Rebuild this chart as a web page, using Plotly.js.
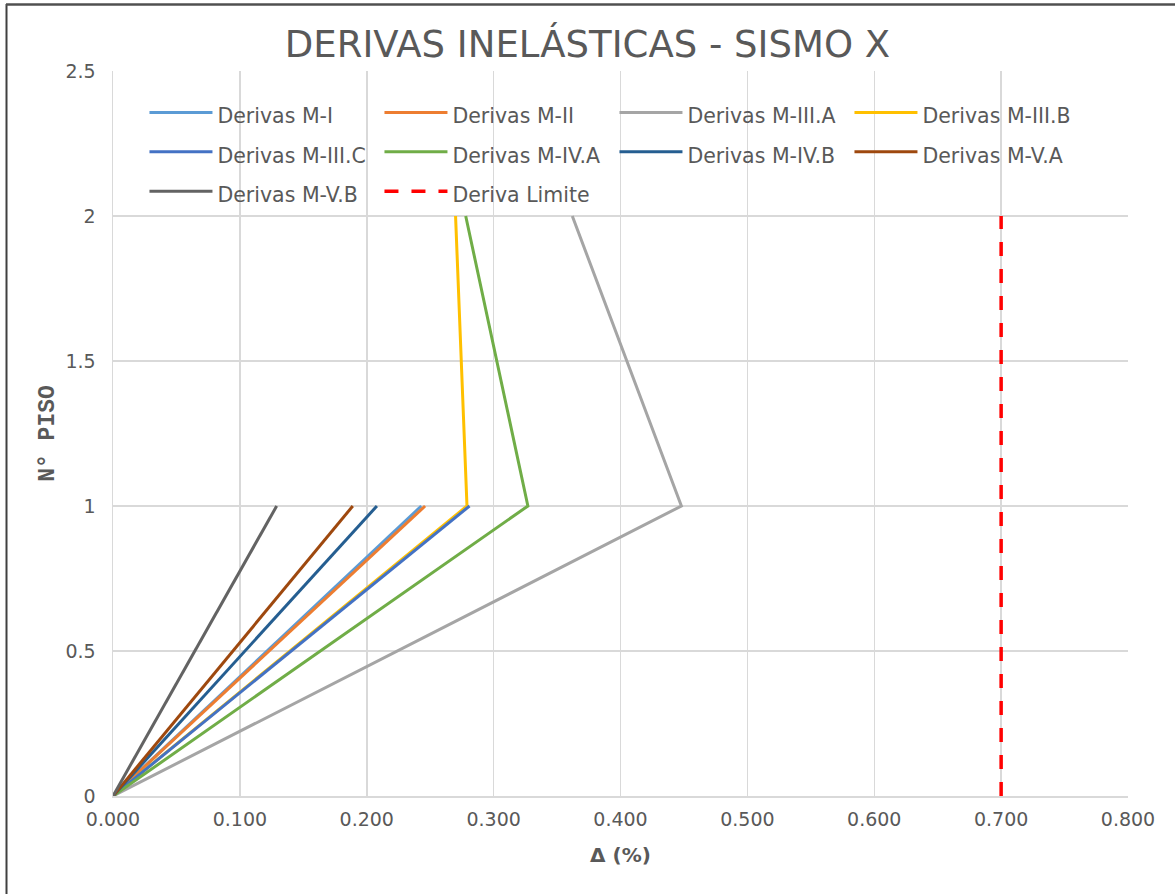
<!DOCTYPE html>
<html>
<head>
<meta charset="utf-8">
<script src="https://cdn.plot.ly/plotly-3.0.1.min.js"></script>
<style>html,body{margin:0;padding:0;background:#fff;}#chart{width:1175px;height:894px;}</style>
</head>
<body>
<div id="chart"></div>
<script>
// Data
const seriesNames = ["Derivas M-I","Derivas M-II","Derivas M-III.A","Derivas M-III.B","Derivas M-III.C","Derivas M-IV.A","Derivas M-IV.B","Derivas M-V.A","Derivas M-V.B"];
const seriesColors = ["#5B9BD5","#ED7D31","#A5A5A5","#FFC000","#4472C4","#70AD47","#255E91","#9E480E","#636363"];
const derivasMI    = [0, 0.243];
const derivasMII   = [0, 0.246];
const derivasMIIIA = [0, 0.448, 0.362];
const derivasMIIIB = [0, 0.279, 0.270];
const derivasMIIIC = [0, 0.281];
const derivasMIVA  = [0, 0.327, 0.278];
const derivasMIVB  = [0, 0.208];
const derivasMVA   = [0, 0.189];
const derivasMVB   = [0, 0.129];
const pisos1 = [0, 1];
const pisos2 = [0, 1, 2];
const limiteName = "Deriva Limite";
const derivaLimiteX = [0.7, 0.7];
const derivaLimiteY = [0, 2];
const xTicks = [0, 0.1, 0.2, 0.3, 0.4, 0.5, 0.6, 0.7, 0.8];
const yTicks = [0, 0.5, 1, 1.5, 2, 2.5];

const seriesX = [derivasMI, derivasMII, derivasMIIIA, derivasMIIIB, derivasMIIIC, derivasMIVA, derivasMIVB, derivasMVA, derivasMVB];
const legendLabel = s => '<span style="font-size:20.5px">' + s + '</span>';

const traces = seriesX.map((xs, i) => ({
  x: xs,
  y: xs.length === 3 ? pisos2 : pisos1,
  type: 'scatter',
  mode: 'lines',
  name: legendLabel(seriesNames[i]),
  line: {color: seriesColors[i], width: 3}
}));
traces.push({
  x: derivaLimiteX, y: derivaLimiteY, type: 'scatter', mode: 'lines',
  name: legendLabel(limiteName), line: {color: '#FF0000', width: 3.5, dash: '14px,13px'}
});

const tickFont = {family: 'DejaVu Sans, sans-serif', size: 19, color: '#595959'};
const layout = {
  width: 1175, height: 894,
  paper_bgcolor: '#fff', plot_bgcolor: '#fff',
  margin: {l: 113, r: 47, t: 71, b: 98},
  title: {text: 'DERIVAS INELÁSTICAS - SISMO X', font: {family: 'DejaVu Sans, sans-serif', size: 37, color: '#595959'}, x: 0.5, xanchor: 'center', y: 0.951, yanchor: 'middle'},
  xaxis: {
    range: [0, 0.8], tickvals: xTicks, tickformat: '.3f', tickfont: tickFont,
    showgrid: true, gridcolor: '#D9D9D9', gridwidth: 1.5, zeroline: false,
    showline: true, linecolor: '#D9D9D9', linewidth: 1.5, ticks: '', ticklabelstandoff: 6,
    title: {text: 'Δ (%)', font: {family: 'DejaVu Sans, sans-serif', size: 20, color: '#595959', weight: 'bold'}, standoff: 18}
  },
  yaxis: {
    range: [0, 2.5], tickvals: yTicks, tickfont: tickFont,
    showgrid: true, gridcolor: '#D9D9D9', gridwidth: 1.5, zeroline: false,
    showline: true, linecolor: '#D9D9D9', linewidth: 1.5, ticks: '', ticklabelstandoff: 12,
    title: {text: 'N° PISO', font: {family: 'Liberation Mono, monospace', size: 23, color: '#595959', weight: 'bold'}, standoff: 4}
  },
  showlegend: true,
  legend: {
    orientation: 'h', x: 0.031, xanchor: 'left', y: 0.977, yanchor: 'top',
    bgcolor: 'rgba(0,0,0,0)', font: {family: 'DejaVu Sans, sans-serif', size: 28, color: '#595959'},
    entrywidth: 157, entrywidthmode: 'pixels', itemwidth: 63, tracegroupgap: 0
  },
  shapes: [
    {type: 'line', xref: 'paper', yref: 'paper', x0: (6.5-113)/1015, x1: (6.5-113)/1015, y0: (796-4)/725, y1: (796-894)/725, line: {color: '#404040', width: 2}},
    {type: 'line', xref: 'paper', yref: 'paper', x0: (6-113)/1015, x1: (1175-113)/1015, y0: (796-4.5)/725, y1: (796-4.5)/725, line: {color: '#505050', width: 2.5}}
  ]
};

Plotly.newPlot('chart', traces, layout, {displayModeBar: false, staticPlot: true});
</script>
</body>
</html>
